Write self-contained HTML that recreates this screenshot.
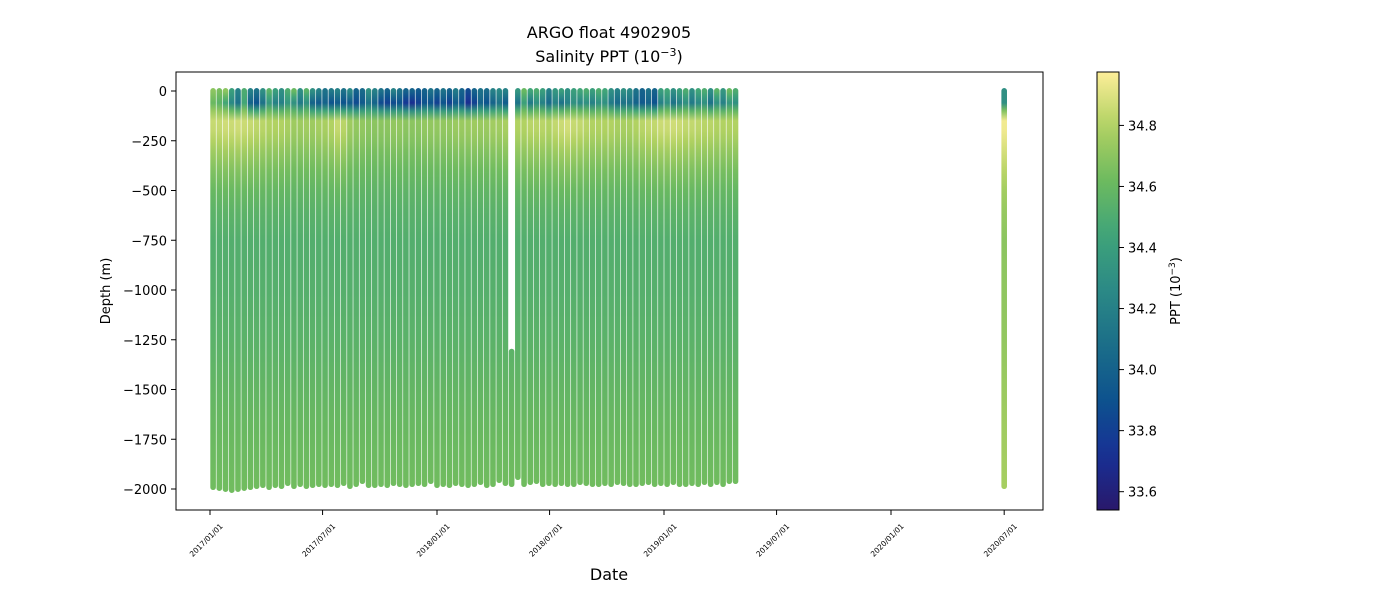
<!DOCTYPE html>
<html><head><meta charset="utf-8"><style>
body{margin:0;background:#fff;font-family:"Liberation Sans","DejaVu Sans",sans-serif}
svg text{font-family:"DejaVu Sans","Liberation Sans",sans-serif}
</style></head><body>
<svg id="chart" width="1400" height="600" xmlns="http://www.w3.org/2000/svg">
<defs id="defs"></defs>
<rect width="1400" height="600" fill="#fff"/>
<text x="609" y="38" font-size="16" text-anchor="middle">ARGO float 4902905</text>
<text x="609" y="62" font-size="16" text-anchor="middle">Salinity PPT (10<tspan dy="-6" font-size="11">−3</tspan><tspan dy="6">)</tspan></text>
<g id="marks"></g>
<rect x="176" y="72" width="867" height="438" fill="none" stroke="#000" stroke-width="1"/>
<g id="yaxis"></g>
<g id="xaxis"></g>
<text transform="translate(110,291) rotate(-90)" font-size="13" text-anchor="middle">Depth (m)</text>
<text x="609" y="580" font-size="16" text-anchor="middle">Date</text>
<rect id="cbar" x="1097" y="72" width="22" height="438" stroke="#000" stroke-width="1"/>
<g id="caxis"></g>
<text transform="translate(1180,291) rotate(-90)" font-size="13" text-anchor="middle">PPT (10<tspan dy="-5" font-size="9">−3</tspan><tspan dy="5">)</tspan></text>
</svg>
<script>
// profile dates as days since 2017-01-01
const days=[5,15,25,35,45,55,65,75,85,95,105,115,125,135,145,155,165,175,185,195,205,215,225,235,245,255,265,275,285,295,305,315,325,335,345,355,365,375,385,395,405,415,425,435,445,455,465,475,485,495,505,515,525,535,545,555,565,575,585,595,605,615,625,635,645,655,665,675,685,695,705,715,725,735,745,755,765,775,785,795,805,815,825,835,845,1277];
const maxDepth=[1990,1995,2000,2005,2000,1995,1990,1985,1980,1990,1980,1985,1970,1985,1975,1985,1980,1975,1980,1975,1980,1970,1985,1975,1960,1980,1980,1975,1980,1970,1975,1980,1975,1970,1975,1960,1980,1975,1980,1970,1975,1980,1975,1965,1980,1975,1955,1970,1975,1940,1975,1965,1960,1975,1970,1975,1970,1975,1975,1965,1970,1975,1975,1970,1975,1965,1970,1975,1975,1970,1965,1975,1970,1975,1965,1975,1975,1970,1975,1965,1975,1965,1975,1960,1960,1985];
const minDepth=[0,0,0,0,0,0,0,0,0,0,0,0,0,0,0,0,0,0,0,0,0,0,0,0,0,0,0,0,0,0,0,0,0,0,0,0,0,0,0,0,0,0,0,0,0,0,0,0,1310,0,0,0,0,0,0,0,0,0,0,0,0,0,0,0,0,0,0,0,0,0,0,0,0,0,0,0,0,0,0,0,0,0,0,0,0,0];
const surfSal=[34.7,34.65,34.7,34.4,34.2,34.5,34.2,34.1,34.3,34.55,34.4,34.3,34.5,34.6,34.3,34.55,34.3,34.2,34.1,34.15,34.2,34.1,34.25,34.0,34.05,34.3,34.2,34.1,34.0,34.2,34.1,34.0,34.0,33.95,34.0,34.1,34.0,34.1,34.0,34.15,34.0,33.85,34.0,34.1,34.05,34.2,34.25,34.2,34.3,34.35,34.6,34.45,34.5,34.4,34.2,34.35,34.4,34.3,34.4,34.45,34.5,34.4,34.5,34.45,34.3,34.2,34.3,34.25,34.1,34.0,34.1,34.0,34.4,34.45,34.3,34.4,34.5,34.3,34.45,34.5,34.3,34.55,34.35,34.6,34.5,34.3];
const subSal=[34.6,34.55,34.45,34.25,34.1,34.45,34.0,33.9,34.1,34.35,34.2,34.2,34.35,34.3,34.15,34.3,34.0,33.95,34.0,33.9,33.95,33.9,33.95,33.85,33.95,34.1,34.0,33.85,33.8,33.85,33.9,33.75,33.7,33.8,33.9,33.9,33.8,33.9,33.8,33.95,33.9,33.7,33.8,34.0,33.9,34.0,34.1,33.95,34.05,34.1,34.4,34.15,34.3,34.2,34.05,34.2,34.1,34.2,34.3,34.25,34.3,34.2,34.3,34.3,34.15,34.05,34.1,34.1,34.0,33.95,34.0,33.9,34.2,34.3,34.1,34.2,34.3,34.15,34.25,34.3,34.1,34.3,34.2,34.35,34.3,34.3];
const maxSal=[34.85,34.85,34.87,34.86,34.87,34.86,34.85,34.83,34.82,34.8,34.8,34.8,34.78,34.75,34.75,34.76,34.75,34.77,34.78,34.8,34.85,34.82,34.75,34.72,34.72,34.7,34.7,34.7,34.7,34.72,34.72,34.7,34.7,34.7,34.72,34.72,34.72,34.72,34.72,34.74,34.74,34.74,34.75,34.74,34.74,34.76,34.76,34.78,34.78,34.8,34.8,34.82,34.82,34.82,34.8,34.84,34.86,34.88,34.85,34.84,34.82,34.8,34.8,34.8,34.8,34.78,34.78,34.78,34.8,34.82,34.84,34.84,34.86,34.86,34.87,34.86,34.84,34.84,34.83,34.82,34.82,34.8,34.8,34.8,34.8,34.95];
const depthLevels=[0,30,60,100,150,200,250,300,400,500,600,750,1000,1250,1500,1750,2000];
const deepShape=[0,0,0,0.9,1,0.97,0.85,0.7,0.45,0.25,0.12,0,0,0,0,0,0];
const deepSal=[34.55,34.55,34.55,34.55,34.55,34.55,34.54,34.53,34.52,34.52,34.52,34.52,34.53,34.55,34.58,34.61,34.63];
const lastDeep=[34.7,34.7,34.7,34.7,34.7,34.72,34.72,34.72,34.71,34.7,34.7,34.7,34.71,34.72,34.74,34.76,34.77];
const yTicks=[0,-250,-500,-750,-1000,-1250,-1500,-1750,-2000];
const xTickDays=[0,181,365,546,730,911,1095,1277];
const xTickLabels=["2017/01/01","2017/07/01","2018/01/01","2018/07/01","2019/01/01","2019/07/01","2020/01/01","2020/07/01"];
const cTicks=[33.6,33.8,34.0,34.2,34.4,34.6,34.8];
const cMin=33.54,cMax=34.975;
const cmap=[[41,24,107],[24,48,150],[13,82,142],[27,110,137],[43,137,134],[62,163,122],[108,186,95],[176,209,97],[253,238,153]];

const NS="http://www.w3.org/2000/svg";
const X=d=>210+d*(664-210)/730;
const Y=z=>91+z*(489-91)/2000; // z = depth (positive down)
const CY=s=>72+(cMax-s)/(cMax-cMin)*438;
function col(s){let t=(s-cMin)/(cMax-cMin);t=Math.max(0,Math.min(1,t))*(cmap.length-1);const i=Math.min(cmap.length-2,Math.floor(t)),f=t-i;const a=cmap[i],b=cmap[i+1];return `rgb(${Math.round(a[0]+(b[0]-a[0])*f)},${Math.round(a[1]+(b[1]-a[1])*f)},${Math.round(a[2]+(b[2]-a[2])*f)})`;}
function el(n,a,p){const e=document.createElementNS(NS,n);for(const k in a)e.setAttribute(k,a[k]);p.appendChild(e);return e;}
const defs=document.getElementById('defs'),marks=document.getElementById('marks');
days.forEach((d,i)=>{
  const last=i===days.length-1;
  const g=el('linearGradient',{id:'g'+i,gradientUnits:'userSpaceOnUse',x1:0,x2:0,y1:Y(0),y2:Y(2000)},defs);
  depthLevels.forEach((z,j)=>{
    let s;
    if(j===0)s=surfSal[i];else if(j===1)s=(surfSal[i]+subSal[i])/2;else if(j===2)s=subSal[i];
    else{const base=last?lastDeep[j]:deepSal[j];s=base+(maxSal[i]-base)*deepShape[j];}
    if(j===3)s=0.6*s+0.4*subSal[i];
    el('stop',{offset:z/2000,'stop-color':col(s)},g);
  });
  const r=el('rect',{x:X(d)-2.8,y:Y(minDepth[i])-3,width:5.6,height:Y(maxDepth[i])-Y(minDepth[i])+6,rx:2.8,fill:`url(#g${i})`},marks);
  
  
});
const ya=document.getElementById('yaxis');
yTicks.forEach(v=>{const y=Y(-v);
  el('line',{x1:171,x2:176,y1:y,y2:y,stroke:'#000'},ya);
  const t=el('text',{x:167,y:y+5,'font-size':13,'text-anchor':'end'},ya);t.textContent=v<0?'−'+(-v):String(v);
  
  });
const xa=document.getElementById('xaxis');
xTickDays.forEach((d,i)=>{const x=X(d);
  el('line',{x1:x,x2:x,y1:510,y2:515,stroke:'#000'},xa);
  const t=el('text',{transform:`translate(${x-2},${542}) rotate(-45)`,'font-size':7.5,'text-anchor':'middle'},xa);t.textContent=xTickLabels[i];
  
  });
const cg=el('linearGradient',{id:'cg',x1:0,x2:0,y1:1,y2:0},defs);
for(let k=0;k<=20;k++){el('stop',{offset:k/20,'stop-color':col(cMin+(cMax-cMin)*k/20)},cg);}
document.getElementById('cbar').setAttribute('fill','url(#cg)');
const ca=document.getElementById('caxis');
cTicks.forEach(s=>{const y=CY(s);
  el('line',{x1:1119,x2:1124,y1:y,y2:y,stroke:'#000'},ca);
  const t=el('text',{x:1128,y:y+5,'font-size':13},ca);t.textContent=s.toFixed(1);
  
  });
</script>
</body></html>
